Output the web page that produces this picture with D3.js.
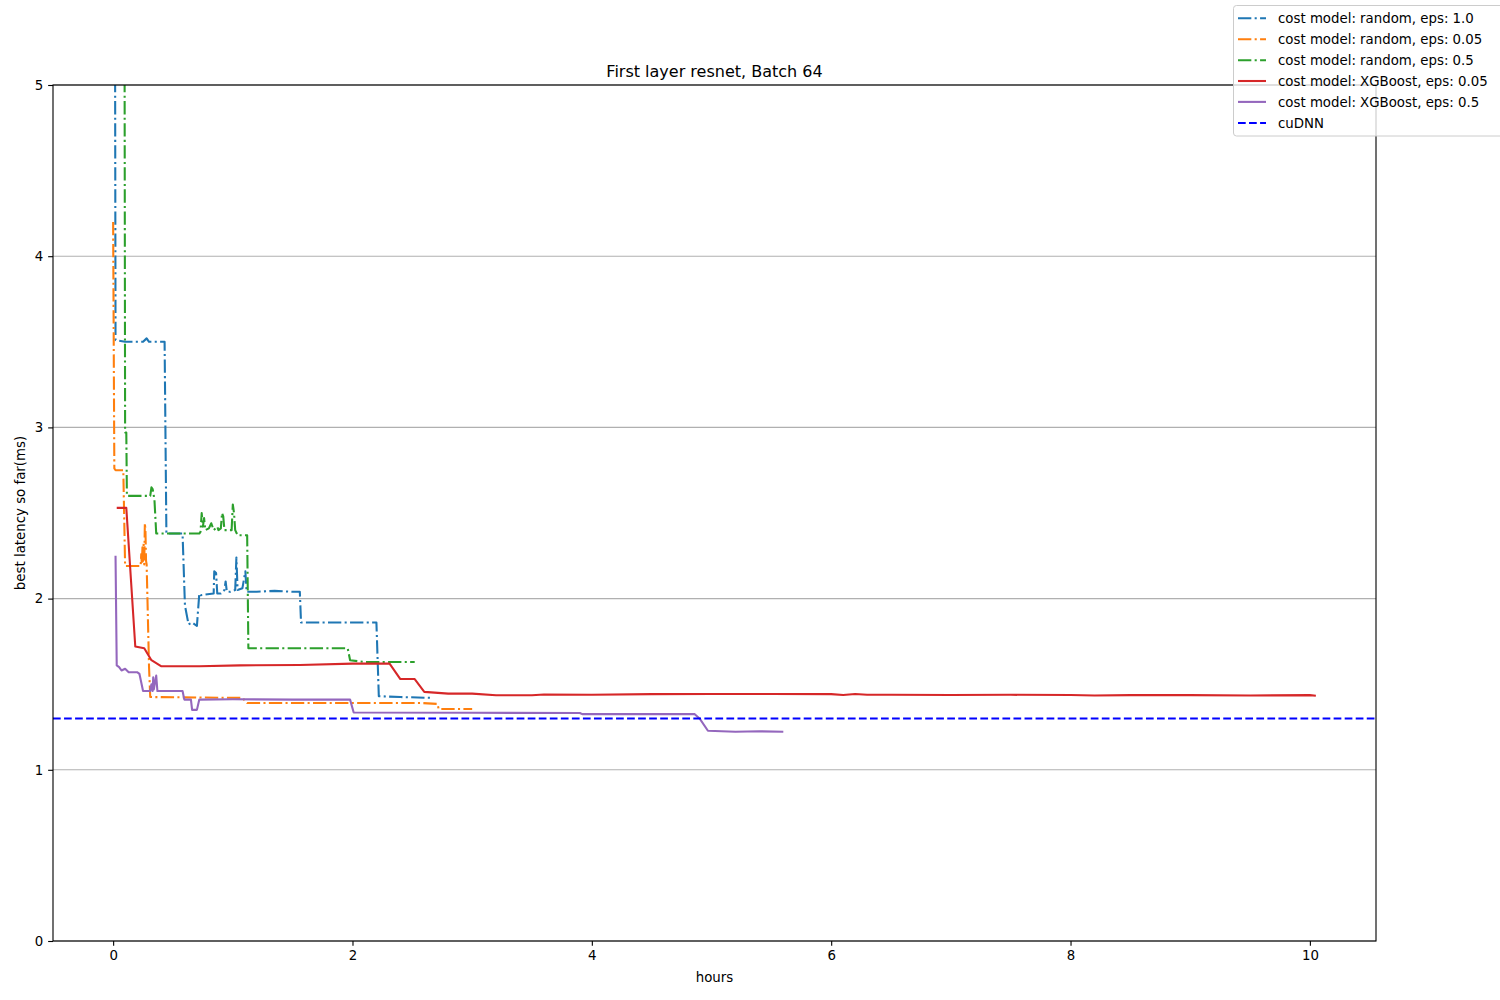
<!DOCTYPE html>
<html>
<head>
<meta charset="utf-8">
<script src="https://cdn.jsdelivr.net/npm/d3@7"></script>
<style>
  body { margin: 0; background: #fff; }
  svg { display: block; font-family: "DejaVu Sans", sans-serif; }
</style>
</head>
<body>
<svg id="chart" width="1500" height="1000"></svg>
<script>
// ---- data (hours, best latency ms) ----
const titleText = "First layer resnet, Batch 64";
const xTicks = [0, 2, 4, 6, 8, 10];
const yTicks = [0, 1, 2, 3, 4, 5];

const randEps10X = [0.01, 0.02, 0.1, 0.25, 0.28, 0.3, 0.43, 0.445, 0.58, 0.6, 0.63, 0.66, 0.7, 0.72, 0.73, 0.84, 0.845, 0.86, 0.87, 0.9, 0.93, 0.94, 0.95, 0.98, 1.02, 1.03, 1.04, 1.08, 1.105, 1.115, 1.2, 1.35, 1.5, 1.56, 1.57, 1.8, 2.2, 2.22, 2.4, 2.67];
const randEps10Y = [8.0, 3.51, 3.5, 3.5, 3.52, 3.5, 3.5, 2.38, 2.38, 1.96, 1.85, 1.86, 1.84, 2.03, 2.02, 2.03, 2.16, 2.15, 2.03, 2.03, 2.05, 2.1, 2.04, 2.04, 2.05, 2.24, 2.05, 2.06, 2.16, 2.04, 2.04, 2.045, 2.04, 2.04, 1.86, 1.86, 1.86, 1.43, 1.425, 1.42];

const randEps005X = [0.0, 0.01, 0.02, 0.085, 0.1, 0.23, 0.235, 0.24, 0.245, 0.25, 0.255, 0.26, 0.265, 0.27, 0.275, 0.28, 0.3, 0.31, 1.08, 1.12, 1.6, 2.0, 2.58, 2.71, 2.72, 3.0];
const randEps005Y = [4.2, 2.76, 2.75, 2.75, 2.19, 2.19, 2.26, 2.2, 2.3, 2.22, 2.32, 2.2, 2.44, 2.4, 2.22, 2.2, 1.6, 1.425, 1.42, 1.39, 1.39, 1.39, 1.39, 1.385, 1.355, 1.355];

const randEps05X = [0.09, 0.1, 0.11, 0.115, 0.28, 0.31, 0.32, 0.33, 0.345, 0.36, 0.72, 0.73, 0.74, 0.75, 0.76, 0.77, 0.8, 0.82, 0.84, 0.87, 0.88, 0.9, 0.91, 0.92, 0.93, 0.99, 1.0, 1.01, 1.02, 1.04, 1.12, 1.13, 1.96, 1.98, 2.1, 2.52];
const randEps05Y = [8.0, 2.97, 2.97, 2.6, 2.6, 2.6, 2.65, 2.64, 2.58, 2.38, 2.38, 2.39, 2.5, 2.42, 2.47, 2.4, 2.41, 2.44, 2.4, 2.42, 2.4, 2.41, 2.5, 2.48, 2.4, 2.4, 2.55, 2.5, 2.4, 2.37, 2.37, 1.71, 1.71, 1.64, 1.63, 1.63];

const xgbEps005X = [0.03, 0.11, 0.185, 0.26, 0.32, 0.4, 0.72, 1.06, 1.56, 2.0, 2.31, 2.4, 2.52, 2.6, 2.8, 3.0, 3.2, 3.5, 3.6, 4.0, 4.5, 5.0, 5.5, 6.0, 6.1, 6.2, 6.3, 6.5, 7.0, 7.5, 8.0, 8.2, 8.5, 9.0, 9.5, 10.0, 10.05];
const xgbEps005Y = [2.53, 2.53, 1.72, 1.71, 1.64, 1.605, 1.605, 1.61, 1.612, 1.62, 1.62, 1.53, 1.53, 1.455, 1.445, 1.445, 1.435, 1.435, 1.44, 1.438, 1.442, 1.443, 1.443, 1.442, 1.437, 1.443, 1.438, 1.438, 1.437, 1.438, 1.437, 1.434, 1.436, 1.436, 1.434, 1.436, 1.433];

const xgbEps05X = [0.02, 0.03, 0.05, 0.07, 0.1, 0.13, 0.2, 0.22, 0.25, 0.31, 0.32, 0.33, 0.335, 0.34, 0.36, 0.37, 0.58, 0.595, 0.65, 0.66, 0.7, 0.72, 1.0, 1.5, 1.98, 2.01, 3.0, 3.9, 3.92, 4.86, 4.9, 4.97, 5.2, 5.4, 5.6];
const xgbEps05Y = [2.25, 1.61, 1.6, 1.58, 1.59, 1.57, 1.57, 1.56, 1.46, 1.46, 1.5, 1.46, 1.54, 1.47, 1.55, 1.46, 1.46, 1.41, 1.41, 1.35, 1.35, 1.41, 1.412, 1.41, 1.41, 1.335, 1.333, 1.332, 1.325, 1.325, 1.3, 1.228, 1.222, 1.225, 1.222];

const cudnnValue = 1.30;

const seriesNames = [
  "cost model: random, eps: 1.0",
  "cost model: random, eps: 0.05",
  "cost model: random, eps: 0.5",
  "cost model: XGBoost, eps: 0.05",
  "cost model: XGBoost, eps: 0.5",
  "cuDNN"
];

// ---- build series ----
const PT = 100 / 72;
const LW = 1.5 * PT;
const dashDot = [6.4, 1.6, 1, 1.6].map(v => (v * 1.5 * PT).toFixed(2)).join(",");
const dashed = [3.7, 1.6].map(v => (v * 1.5 * PT).toFixed(2)).join(",");
const zip = (xs, ys) => xs.map((x, i) => [x, ys[i]]);
const series = [
  { name: seriesNames[0], pts: zip(randEps10X, randEps10Y), color: "#1f77b4", dash: dashDot },
  { name: seriesNames[1], pts: zip(randEps005X, randEps005Y), color: "#ff7f0e", dash: dashDot },
  { name: seriesNames[2], pts: zip(randEps05X, randEps05Y), color: "#2ca02c", dash: dashDot },
  { name: seriesNames[3], pts: zip(xgbEps005X, xgbEps005Y), color: "#d62728", dash: null },
  { name: seriesNames[4], pts: zip(xgbEps05X, xgbEps05Y), color: "#9467bd", dash: null },
];
const cudnn = { name: seriesNames[5], color: "#0000ff", dash: dashed };

// ---- layout ----
const svg = d3.select("#chart");
const L = 53, R = 1376, T = 85, B = 941;
const x = d3.scaleLinear().domain([-0.5025, 10.5525]).range([L, R]);
const y = d3.scaleLinear().domain([0, 5]).range([B, T]);

svg.append("defs").append("clipPath").attr("id", "clip")
  .append("rect").attr("x", L).attr("y", T).attr("width", R - L).attr("height", B - T);

// grid (y only)
svg.append("g").selectAll("line").data(yTicks).join("line")
  .attr("x1", L).attr("x2", R)
  .attr("y1", d => y(d)).attr("y2", d => y(d))
  .attr("stroke", "#b0b0b0").attr("stroke-width", 0.8 * PT);

// lines
const line = d3.line().x(d => x(d[0])).y(d => y(d[1]));
const plot = svg.append("g").attr("clip-path", "url(#clip)");
series.forEach(s => {
  plot.append("path").datum(s.pts)
    .attr("d", line)
    .attr("fill", "none")
    .attr("stroke", s.color)
    .attr("stroke-width", LW)
    .attr("stroke-linejoin", "round")
    .attr("stroke-dasharray", s.dash);
});
plot.append("line")
  .attr("x1", L).attr("x2", R)
  .attr("y1", y(cudnnValue)).attr("y2", y(cudnnValue))
  .attr("stroke", cudnn.color).attr("stroke-width", LW)
  .attr("stroke-dasharray", cudnn.dash);

// axes
const fs = "13.33px";
const xAxis = d3.axisBottom(x).tickValues(xTicks).tickFormat(d3.format("d")).tickSize(3.5 * PT).tickPadding(3.5 * PT);
const yAxis = d3.axisLeft(y).tickValues(yTicks).tickFormat(d3.format("d")).tickSize(3.5 * PT).tickPadding(3.5 * PT);
const gx = svg.append("g").attr("transform", `translate(0,${B})`).call(xAxis);
const gy = svg.append("g").attr("transform", `translate(${L},0)`).call(yAxis);
[gx, gy].forEach(g => {
  g.select(".domain").remove();
  g.selectAll(".tick line").attr("stroke", "#000").attr("stroke-width", 0.8 * PT);
  g.selectAll(".tick text").attr("fill", "#000").style("font-size", fs).style("font-family", "DejaVu Sans");
});

// frame
svg.append("rect").attr("x", L).attr("y", T).attr("width", R - L).attr("height", B - T)
  .attr("fill", "none").attr("stroke", "#000").attr("stroke-width", 0.8 * PT);

// labels
svg.append("text").attr("x", (L + R) / 2).attr("y", 77).attr("text-anchor", "middle")
  .style("font-size", "16px").text(titleText);
svg.append("text").attr("x", (L + R) / 2).attr("y", 982).attr("text-anchor", "middle")
  .style("font-size", fs).text("hours");
svg.append("text").attr("transform", `translate(25,${(T + B) / 2}) rotate(-90)`)
  .attr("text-anchor", "middle").style("font-size", fs).text("best latency so far(ms)");

// legend
const lg = svg.append("g");
lg.append("rect").attr("x", 1233.5).attr("y", 5.5).attr("width", 280).attr("height", 130.5)
  .attr("rx", 3).attr("fill", "#fff").attr("fill-opacity", 0.8)
  .attr("stroke", "#cccccc").attr("stroke-width", 1);
const legendItems = [...series, cudnn];
const rowY = [18.3, 39.3, 60.2, 81, 101.9, 123];
legendItems.forEach((s, i) => {
  const yy = rowY[i];
  lg.append("line").attr("x1", 1238).attr("x2", 1266).attr("y1", yy).attr("y2", yy)
    .attr("stroke", s.color).attr("stroke-width", LW).attr("stroke-dasharray", s.dash);
  lg.append("text").attr("x", 1278).attr("y", yy).attr("dy", "0.35em")
    .style("font-size", fs).text(s.name);
});
</script>
</body>
</html>
